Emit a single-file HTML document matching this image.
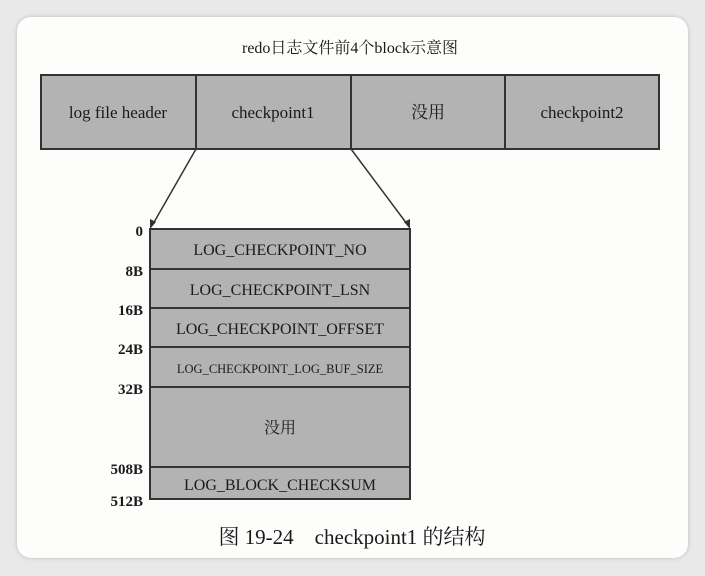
<!DOCTYPE html>
<html><head><meta charset="utf-8"><style>
body{margin:0;width:705px;height:576px;background:#e9e9e9;overflow:hidden;font-family:"Liberation Serif","Noto Serif CJK SC",serif}
.card{position:absolute;left:17px;top:17px;width:671px;height:541px;background:#fdfdfc;border-radius:14px;box-shadow:0 0 4px #bbb}
</style></head><body>
<div class="card"></div>
<svg width="705" height="576" style="position:absolute;left:0;top:0" font-family="Liberation Serif, Noto Serif CJK SC, serif" fill="#1a1a1a">
<rect x="41" y="75" width="618" height="74" fill="#b3b3b3" stroke="#333" stroke-width="2"/>
<line x1="196" y1="75" x2="196" y2="149" stroke="#333" stroke-width="2"/>
<line x1="351" y1="75" x2="351" y2="149" stroke="#333" stroke-width="2"/>
<line x1="505" y1="75" x2="505" y2="149" stroke="#333" stroke-width="2"/>
<text x="350" y="53" font-size="16" text-anchor="middle">redo日志文件前4个block示意图</text>
<text x="118" y="118" font-size="17" text-anchor="middle">log file header</text>
<text x="273" y="118" font-size="17" text-anchor="middle">checkpoint1</text>
<text x="428" y="118" font-size="17" text-anchor="middle">没用</text>
<text x="582" y="118" font-size="17" text-anchor="middle">checkpoint2</text>
<line x1="196" y1="149" x2="153" y2="224" stroke="#333" stroke-width="1.5"/>
<line x1="351" y1="149" x2="407" y2="224" stroke="#333" stroke-width="1.5"/>
<polygon points="150,229 150,219 156,222" fill="#333"/>
<polygon points="410,229 404,222 410,219" fill="#333"/>
<rect x="150" y="229" width="260" height="270" fill="#b3b3b3" stroke="#333" stroke-width="2"/>
<g stroke="#333" stroke-width="2">
<line x1="150" y1="269" x2="410" y2="269"/><line x1="150" y1="308" x2="410" y2="308"/>
<line x1="150" y1="347" x2="410" y2="347"/><line x1="150" y1="387" x2="410" y2="387"/>
<line x1="150" y1="467" x2="410" y2="467"/></g>
<g text-anchor="middle" font-size="16">
<text x="280" y="255">LOG_CHECKPOINT_NO</text>
<text x="280" y="295">LOG_CHECKPOINT_LSN</text>
<text x="280" y="334">LOG_CHECKPOINT_OFFSET</text>
<text x="280" y="373" font-size="12.5">LOG_CHECKPOINT_LOG_BUF_SIZE</text>
<text x="280" y="433">没用</text>
<text x="280" y="490">LOG_BLOCK_CHECKSUM</text>
</g>
<g text-anchor="end" font-size="15" font-weight="bold">
<text x="143" y="236">0</text><text x="143" y="276">8B</text><text x="143" y="315">16B</text>
<text x="143" y="354">24B</text><text x="143" y="394">32B</text><text x="143" y="474">508B</text>
<text x="143" y="506">512B</text></g>
<text x="352" y="544" font-size="21" text-anchor="middle">图 19-24 &#160;&#160;&#160;checkpoint1 的结构</text>
</svg>
</body></html>
